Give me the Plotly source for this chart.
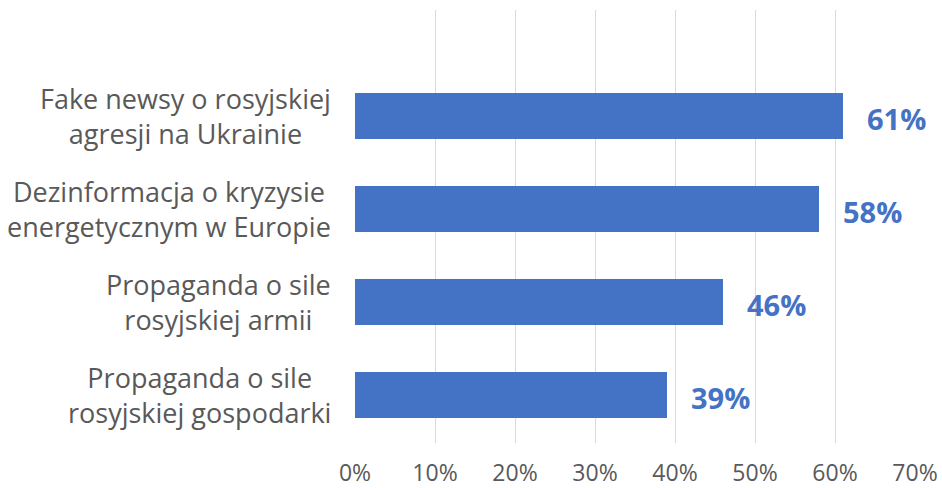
import plotly.graph_objects as go

categories = [
    "Propaganda o sile<br>rosyjskiej gospodarki",
    "Propaganda o sile<br>rosyjskiej armii",
    "Dezinformacja o kryzysie<br>energetycznym w Europie",
    "Fake newsy o rosyjskiej<br>agresji na Ukrainie",
]
values = [0.39, 0.46, 0.58, 0.61]
value_labels = ["39%", "46%", "58%", "61%"]
tick_vals = [0, 0.1, 0.2, 0.3, 0.4, 0.5, 0.6, 0.7]
tick_text = ["0%", "10%", "20%", "30%", "40%", "50%", "60%", "70%"]

BLUE = "#4472C4"
GRAY = "#595959"
FONT = "Open Sans, Noto Sans, sans-serif"

fig = go.Figure()
fig.add_trace(go.Bar(
    x=values, y=categories, orientation="h",
    marker=dict(color=BLUE, line=dict(width=0)),
    width=0.495, hoverinfo="skip",
))

for v, c, t in zip(values, categories, value_labels):
    fig.add_annotation(
        x=v, y=c, text="<b>" + t + "</b>", showarrow=False,
        xanchor="left", yanchor="middle", xshift=22, yshift=-2,
        font=dict(family=FONT, size=29, color=BLUE),
    )

for c in categories:
    fig.add_annotation(
        x=0, xref="paper", y=c, yref="y", text=c, showarrow=False,
        xanchor="right", yanchor="middle", align="center", xshift=-22,
        font=dict(family=FONT, size=27, color=GRAY),
    )

fig.update_layout(
    width=942, height=488,
    margin=dict(l=355, r=27, t=10, b=45),
    paper_bgcolor="white", plot_bgcolor="white",
    showlegend=False,
    font=dict(family=FONT, color=GRAY, size=24),
    xaxis=dict(
        range=[0, 0.7], tickvals=tick_vals, ticktext=tick_text,
        showgrid=True, gridcolor="#d9d9d9", gridwidth=1.3,
        zeroline=False, showline=False, automargin=False,
        ticks="outside", ticklen=9, tickcolor="rgba(0,0,0,0)",
        tickfont=dict(family=FONT, size=23, color=GRAY),
    ),
    yaxis=dict(
        type="category", categoryorder="array", categoryarray=categories,
        range=[-0.516, 4.14], automargin=False,
        showgrid=False, zeroline=False, showline=False,
        showticklabels=False,
    ),
)

fig.write_html("out.html", config={"displayModeBar": False},
               post_script="document.body.style.margin='0';")
